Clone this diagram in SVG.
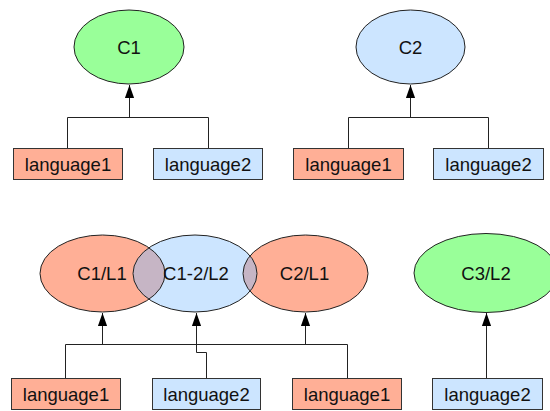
<svg xmlns="http://www.w3.org/2000/svg" width="550" height="411" viewBox="0 0 550 411">
<style>
text{font-family:"Liberation Sans",Arial,sans-serif;font-size:18.5px;fill:#111;text-anchor:middle}
.box{stroke:#333;stroke-width:1}
.ell{stroke:#222;stroke-width:1}
.l1{fill:#ffaf96}
.l2{fill:#cce5ff}
.g{fill:#99ff99}
.ov{fill:#c6b5c5}
.con{fill:none;stroke:#222;stroke-width:1}
</style>
<defs>
<marker id="arr" markerWidth="13" markerHeight="10" refX="13" refY="5" orient="auto" markerUnits="userSpaceOnUse">
<path d="M0,0.4 L13,5 L0,9.6 Z" fill="#000"/>
</marker>
<clipPath id="cA"><ellipse cx="102.5" cy="273.5" rx="62.5" ry="38.5"/></clipPath>
<clipPath id="cC"><ellipse cx="305.5" cy="273.5" rx="62.5" ry="38.5"/></clipPath>
</defs>
<g id="connectors">
<path class="con" d="M67.5,148 V117.5 H208.5 V148 M129.5,117.5 V85" marker-end="url(#arr)"/>
<path class="con" d="M348.5,148 V117.5 H488.5 V148 M410.5,117.5 V85" marker-end="url(#arr)"/>
<path class="con" d="M65.5,378 V344.5 H347.5 V378 M102.5,344.5 V313" marker-end="url(#arr)"/>
<path class="con" d="M305.5,344.5 V313" marker-end="url(#arr)"/>
<path class="con" d="M206.5,378 V352.5 H196.5 V313" marker-end="url(#arr)"/>
<path class="con" d="M486.5,378 V313" marker-end="url(#arr)"/>
</g>
<g id="C1"><ellipse class="ell g" cx="129" cy="47" rx="55" ry="37"/><text x="129" y="53.5">C1</text></g>
<g id="C2"><ellipse class="ell l2" cx="410.5" cy="47" rx="54.5" ry="37"/><text x="410.5" y="53.5">C2</text></g>
<g id="top-language1-a"><rect class="box l1" x="13.5" y="148.5" width="109" height="31"/><text x="68" y="170.5">language1</text></g>
<g id="top-language2-a"><rect class="box l2" x="153.5" y="148.5" width="109" height="31"/><text x="208" y="170.5">language2</text></g>
<g id="top-language1-b"><rect class="box l1" x="293.5" y="148.5" width="110" height="31"/><text x="348.5" y="170.5">language1</text></g>
<g id="top-language2-b"><rect class="box l2" x="433.5" y="148.5" width="110" height="31"/><text x="488.5" y="170.5">language2</text></g>
<g id="venn">
<g id="C1-L1"><ellipse class="l1" cx="102.5" cy="273.5" rx="62.5" ry="38.5"/></g>
<g id="C2-L1"><ellipse class="l1" cx="305.5" cy="273.5" rx="62.5" ry="38.5"/></g>
<g id="C1-2-L2"><ellipse class="l2" cx="195" cy="273.5" rx="62" ry="38.5"/></g>
<ellipse class="ov" clip-path="url(#cA)" cx="195" cy="273.5" rx="62" ry="38.5"/>
<ellipse class="ov" clip-path="url(#cC)" cx="195" cy="273.5" rx="62" ry="38.5"/>
<ellipse class="ell" fill="none" cx="102.5" cy="273.5" rx="62.5" ry="38.5"/>
<ellipse class="ell" fill="none" cx="305.5" cy="273.5" rx="62.5" ry="38.5"/>
<ellipse class="ell" fill="none" cx="195" cy="273.5" rx="62" ry="38.5"/>
<text x="102" y="280">C1/L1</text>
<text x="196" y="280">C1-2/L2</text>
<text x="304.5" y="280">C2/L1</text>
</g>
<g id="C3-L2"><ellipse class="ell g" cx="486" cy="273" rx="72" ry="39.5"/><text x="486" y="280">C3/L2</text></g>
<g id="bot-language1-a"><rect class="box l1" x="11.5" y="378.5" width="109" height="31"/><text x="66" y="400.5">language1</text></g>
<g id="bot-language2-a"><rect class="box l2" x="152.5" y="378.5" width="108" height="31"/><text x="206.5" y="400.5">language2</text></g>
<g id="bot-language1-b"><rect class="box l1" x="292.5" y="378.5" width="109" height="31"/><text x="347" y="400.5">language1</text></g>
<g id="bot-language2-b"><rect class="box l2" x="432.5" y="378.5" width="110" height="31"/><text x="487.5" y="400.5">language2</text></g>
</svg>
